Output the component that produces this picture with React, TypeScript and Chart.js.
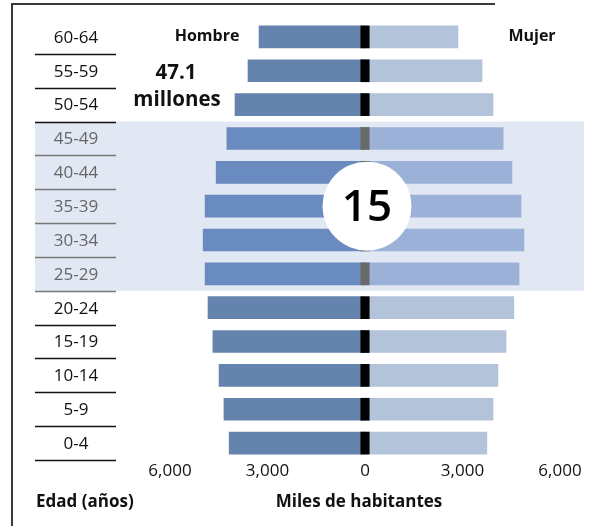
import React, { useEffect, useRef } from "react";
import { Chart, registerables } from "chart.js";

Chart.register(...registerables);

const ageGroups = ["60-64", "55-59", "50-54", "45-49", "40-44", "35-39", "30-34", "25-29", "20-24", "15-19", "10-14", "5-9", "0-4"];
const hombres = [3260, 3600, 4000, 4250, 4580, 4920, 4980, 4920, 4830, 4680, 4490, 4340, 4180];
const mujeres = [2860, 3600, 3940, 4250, 4520, 4800, 4890, 4740, 4580, 4340, 4090, 3940, 3750];
const highlighted = ["45-49", "40-44", "35-39", "30-34", "25-29"];
const xTicks = [-6000, -3000, 0, 3000, 6000];
const centerStrip = 130;

const FONT = "'Open Sans', 'Noto Sans', sans-serif";

const isHi = (i: number) => highlighted.includes(ageGroups[i]);

const overlayPlugin = {
  id: "overlay",
  beforeDatasetsDraw(chart: any) {
    const { ctx } = chart;
    const y = chart.scales.y;
    const idx = highlighted.map((h) => ageGroups.indexOf(h));
    const first = Math.min(...idx);
    const last = Math.max(...idx);
    const half = (y.getPixelForValue(1) - y.getPixelForValue(0)) / 2;
    const top = y.getPixelForValue(first) - half;
    const bot = y.getPixelForValue(last) + half;
    ctx.save();
    ctx.fillStyle = "#E1E7F3";
    ctx.fillRect(35, top, 584 - 35, bot - top);
    ctx.restore();
  },
  afterDatasetsDraw(chart: any) {
    const { ctx } = chart;
    const y = chart.scales.y;
    const x = chart.scales.x;
    const half = (y.getPixelForValue(1) - y.getPixelForValue(0)) / 2;
    ctx.save();
    // frame
    ctx.strokeStyle = "#3a3a3a";
    ctx.lineWidth = 2;
    ctx.beginPath();
    ctx.moveTo(12, 526);
    ctx.lineTo(12, 4);
    ctx.lineTo(495, 4);
    ctx.stroke();

    // age labels + separators
    ctx.textAlign = "center";
    ctx.textBaseline = "middle";
    ctx.font = `17px ${FONT}`;
    ageGroups.forEach((g, i) => {
      const cy = y.getPixelForValue(i);
      ctx.fillStyle = isHi(i) ? "#666666" : "#111111";
      ctx.fillText(g, 76, cy + 1);
      ctx.strokeStyle = isHi(i) ? "#777777" : "#111111";
      ctx.lineWidth = 1.5;
      ctx.beginPath();
      ctx.moveTo(35, Math.round(cy + half) + 0.5);
      ctx.lineTo(116, Math.round(cy + half) + 0.5);
      ctx.stroke();
    });

    // x tick labels
    ctx.fillStyle = "#111111";
    ctx.font = `17px ${FONT}`;
    xTicks.forEach((v) => {
      const lbl = Math.abs(v).toLocaleString("en-US");
      ctx.fillText(lbl, x.getPixelForValue(v), 471);
    });

    // circle with 15
    const cIdx = ageGroups.indexOf("35-39");
    const cx = x.getPixelForValue(0) + 2;
    const cy = y.getPixelForValue(cIdx);
    ctx.fillStyle = "#ffffff";
    ctx.beginPath();
    ctx.arc(cx, cy, 44.5, 0, Math.PI * 2);
    ctx.fill();
    ctx.fillStyle = "#000000";
    ctx.font = `600 44px ${FONT}`;
    ctx.fillText("15", cx, cy + 2);

    // titles
    ctx.font = `bold 16px ${FONT}`;
    ctx.fillStyle = "#111111";
    ctx.fillText("Hombre", 207, y.getPixelForValue(0));
    ctx.fillText("Mujer", 532, y.getPixelForValue(0));
    ctx.font = `bold 20.5px ${FONT}`;
    ctx.fillText("47.1", 176, 73);
    ctx.fillText("millones", 177, 100);
    ctx.font = `bold 17px ${FONT}`;
    ctx.textAlign = "left";
    ctx.fillText("Edad (años)", 36, 502);
    ctx.textAlign = "center";
    ctx.fillText("Miles de habitantes", 359, 502);
    ctx.restore();
  },
};

export default function App() {
  const ref = useRef<HTMLCanvasElement | null>(null);
  useEffect(() => {
    if (!ref.current) return;
    const chart = new Chart(ref.current, {
      type: "bar",
      data: {
        labels: ageGroups,
        datasets: [
          {
            label: "Centro",
            data: ageGroups.map(() => [-centerStrip, centerStrip]) as any,
            backgroundColor: ageGroups.map((_, i) => (isHi(i) ? "#696969" : "#000000")),
            grouped: false,
            order: 0,
            barThickness: 22,
          } as any,
          {
            label: "Hombre",
            data: hombres.map((v) => -v),
            backgroundColor: ageGroups.map((_, i) => (isHi(i) ? "#6A8BBF" : "#6584AD")),
            grouped: false,
            order: 1,
            barThickness: 22,
          } as any,
          {
            label: "Mujer",
            data: mujeres,
            backgroundColor: ageGroups.map((_, i) => (isHi(i) ? "#9BB1D8" : "#B3C3DA")),
            grouped: false,
            order: 2,
            barThickness: 22,
          } as any,
        ],
      },
      options: {
        indexAxis: "y",
        animation: false,
        responsive: false,
        maintainAspectRatio: false,
        layout: { padding: { left: 170, right: 42, top: 20, bottom: 66 } },
        plugins: { legend: { display: false }, tooltip: { enabled: false } },
        scales: {
          x: { display: false, min: -6000, max: 6000 },
          y: { display: false, offset: true },
        },
      },
      plugins: [overlayPlugin],
    });
    return () => chart.destroy();
  }, []);
  return (
    <div style={{ position: "absolute", left: 0, top: 0, width: 602, height: 526, background: "#fff" }}>
      <canvas ref={ref} width={602} height={526} style={{ display: "block", width: 602, height: 526 }} />
    </div>
  );
}
